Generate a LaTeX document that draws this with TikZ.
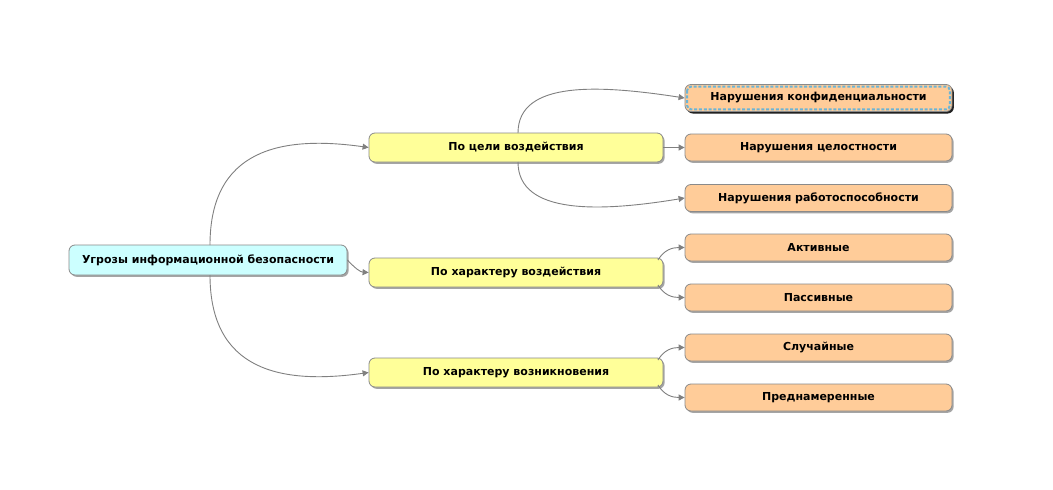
\documentclass[tikz,border=0pt]{standalone}
\usepackage{fontspec}
\setmainfont{DejaVu Sans}
\usetikzlibrary{shadows,arrows.meta}
\definecolor{rootc}{HTML}{CCFFFF}
\definecolor{midc}{HTML}{FFFF99}
\definecolor{leafc}{HTML}{FFCC99}
\definecolor{edgec}{HTML}{808080}
\definecolor{bordc}{HTML}{8A8A8A}
\definecolor{selc}{HTML}{6BB4D6}
\tikzset{
  box/.style={draw=bordc, line width=0.8pt, rounded corners=6pt, inner sep=0pt,
    font=\bfseries\fontsize{11}{13}\selectfont, text=black,
    drop shadow={shadow xshift=1.6pt, shadow yshift=-1.8pt, opacity=0.5, fill=black!70}},
  rootbox/.style={box, fill=rootc, minimum width=278pt, minimum height=30pt},
  midbox/.style={box, fill=midc, minimum width=294pt, minimum height=29pt},
  leafbox/.style={box, fill=leafc, minimum width=267pt, minimum height=27pt},
  conn/.style={draw=edgec, line width=0.9pt, -{Triangle[length=6pt,width=6pt]}},
}
\begin{document}
\begin{tikzpicture}[x=1pt,y=-1pt]
\useasboundingbox (0,0) rectangle (1053,490);
\fill[white] (0,0) rectangle (1053,490);

\node[rootbox] (root) at (208,260) {Угрозы информационной безопасности};
\node[midbox] (m1) at (516,147.5) {По цели воздействия};
\node[midbox] (m2) at (516,272.5) {По характеру воздействия};
\node[midbox] (m3) at (516,372.5) {По характеру возникновения};

\node[leafbox, drop shadow={shadow xshift=1.8pt, shadow yshift=-2pt, opacity=0.8, fill=black}] (l1) at (818.5,98) {Нарушения конфиденциальности};
\draw[selc, line width=2pt, dash pattern=on 3pt off 1.8pt, rounded corners=4pt]
  ([xshift=2.5pt,yshift=-2.5pt]l1.north west) rectangle ([xshift=-2.5pt,yshift=2.5pt]l1.south east);
\node[leafbox] (l2) at (818.5,147.5) {Нарушения целостности};
\node[leafbox] (l3) at (818.5,198) {Нарушения работоспособности};
\node[leafbox] (l4) at (818.5,247.5) {Активные};
\node[leafbox] (l5) at (818.5,297.5) {Пассивные};
\node[leafbox] (l6) at (818.5,347.5) {Случайные};
\node[leafbox] (l7) at (818.5,397.5) {Преднамеренные};

\coordinate (rt) at (210,245);
\coordinate (rb) at (210,275);
\draw[conn] (rt) .. controls (210,150) and (280,135) .. (m1.west);
\draw[conn] (root.east) .. controls (355,268) and (360,272) .. (m2.west);
\draw[conn] (rb) .. controls (210,370) and (280,385) .. (m3.west);

\coordinate (m1t) at (518,133);
\coordinate (m1b) at (518,162);
\draw[conn] (m1t) .. controls (518,80) and (600,85) .. (l1.west);
\draw[conn] (m1.east) -- (l2.west);
\draw[conn] (m1b) .. controls (518,215) and (600,212) .. (l3.west);

\coordinate (m2t) at (658,260);
\coordinate (m2b) at (658,285);
\draw[conn] (m2t) .. controls (664,250) and (672,247.5) .. (l4.west);
\draw[conn] (m2b) .. controls (664,295) and (672,297.5) .. (l5.west);
\coordinate (m3t) at (658,360);
\coordinate (m3b) at (658,385);
\draw[conn] (m3t) .. controls (664,350) and (672,347.5) .. (l6.west);
\draw[conn] (m3b) .. controls (664,395) and (672,397.5) .. (l7.west);
\end{tikzpicture}
\end{document}
